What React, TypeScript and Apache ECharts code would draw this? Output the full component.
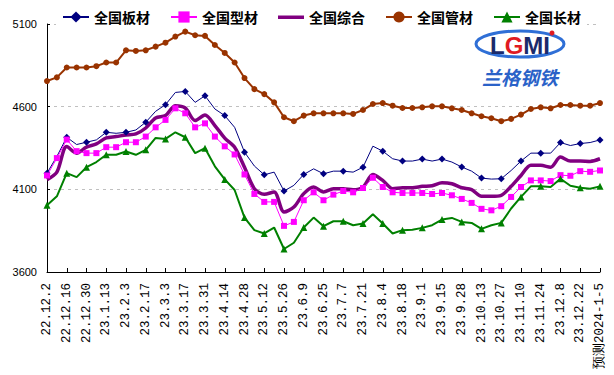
import React, { useEffect, useRef } from "react";
import * as echarts from "echarts";

const dates = [
  "22.12.2", "22.12.9", "22.12.16", "22.12.23", "22.12.30", "23.1.6", "23.1.13", "23.1.20",
  "23.2.3", "23.2.10", "23.2.17", "23.2.24", "23.3.3", "23.3.10", "23.3.17", "23.3.24",
  "23.3.31", "23.4.7", "23.4.14", "23.4.21", "23.4.28", "23.5.5", "23.5.12", "23.5.19",
  "23.5.26", "23.6.2", "23.6.9", "23.6.16", "23.6.25", "23.6.30", "23.7.7", "23.7.14",
  "23.7.21", "23.7.28", "23.8.4", "23.8.11", "23.8.18", "23.8.25", "23.9.1", "23.9.8",
  "23.9.15", "23.9.22", "23.9.28", "23.10.6", "23.10.13", "23.10.20", "23.10.27", "23.11.3",
  "23.11.10", "23.11.17", "23.11.24", "23.12.1", "23.12.8", "23.12.15", "23.12.22", "23.12.29",
  "预测2024-1-5",
];

const plate = [
  4198, 4299, 4415, 4371, 4385, 4399, 4445, 4439, 4445, 4459,
  4506, 4572, 4612, 4686, 4692, 4626, 4666, 4586, 4546, 4475,
  4325, 4241, 4188, 4204, 4090, 4124, 4190, 4224, 4194, 4210,
  4210, 4204, 4234, 4361, 4331, 4285, 4271, 4271, 4283, 4271,
  4283, 4265, 4235, 4210, 4168, 4162, 4164, 4214, 4271, 4319,
  4319, 4319, 4383, 4365, 4377, 4383, 4399,
];

const section = [
  4184, 4289, 4401, 4331, 4319, 4319, 4355, 4355, 4385, 4385,
  4419, 4475, 4520, 4590, 4560, 4475, 4499, 4419, 4360, 4311,
  4190, 4072, 4024, 4024, 3879, 3903, 4034, 4082, 4034, 4068,
  4090, 4082, 4108, 4170, 4114, 4082, 4078, 4078, 4078, 4072,
  4078, 4064, 4042, 4018, 3982, 3973, 3998, 4054, 4114, 4154,
  4154, 4150, 4186, 4182, 4210, 4206, 4214,
];

const composite = [
  4158, 4204, 4359, 4319, 4355, 4375, 4411, 4419, 4429, 4435,
  4471, 4532, 4546, 4606, 4592, 4516, 4550, 4486, 4410, 4355,
  4234, 4104, 4070, 4084, 3963, 3993, 4074, 4114, 4084, 4104,
  4104, 4098, 4114, 4190, 4154, 4104, 4110, 4110, 4118, 4122,
  4140, 4134, 4110, 4098, 4058, 4058, 4064, 4118, 4184, 4245,
  4245, 4234, 4295, 4271, 4271, 4269, 4285,
];

const pipe = [
  4755, 4777, 4837, 4837, 4837, 4845, 4867, 4867, 4941, 4937,
  4941, 4963, 4987, 5024, 5054, 5032, 5028, 4973, 4925, 4867,
  4773, 4706, 4676, 4626, 4536, 4512, 4546, 4560, 4560, 4560,
  4560, 4556, 4580, 4616, 4622, 4606, 4592, 4592, 4596, 4602,
  4602, 4590, 4580, 4560, 4542, 4530, 4512, 4526, 4552, 4586,
  4596, 4590, 4610, 4610, 4606, 4606, 4622,
];

const longProd = [
  4004, 4058, 4198, 4174, 4234, 4265, 4309, 4309, 4329, 4309,
  4339, 4411, 4405, 4445, 4415, 4319, 4349, 4239, 4160, 4096,
  3929, 3853, 3833, 3869, 3739, 3777, 3869, 3929, 3877, 3907,
  3907, 3883, 3893, 3949, 3893, 3833, 3853, 3855, 3867, 3883,
  3917, 3927, 3903, 3897, 3861, 3883, 3897, 3984, 4054, 4118,
  4118, 4114, 4164, 4122, 4110, 4104, 4118,
];

const names = ["全国板材", "全国型材", "全国综合", "全国管材", "全国长材"];
const yTicks = [3600, 4100, 4600, 5100];

export default function App() {
  const ref = useRef<HTMLDivElement>(null);
  useEffect(() => {
    if (!ref.current) return;
    const chart = echarts.init(ref.current, null, { renderer: "svg" });
    chart.setOption({
      animation: false,
      backgroundColor: "#ffffff",
      grid: { left: 47, right: 14, top: 24, bottom: 103, containLabel: false },
      legend: {
        data: [
          names[0],
          names[1],
          { name: names[2], icon: "path://M0,0 M0,5.5 L26,5.5 L26,9 L0,9 Z M26,14" },
          names[3],
          names[4],
        ],
        top: 7,
        left: 56,
        padding: [3, 6, 3, 6],
        backgroundColor: "#ffffff",
        itemWidth: 26,
        itemHeight: 14,
        itemGap: 20,
        textStyle: {
          fontFamily: "Noto Sans CJK SC",
          fontSize: 14,
          fontWeight: "bold",
          color: "#000000",
        },
      },
      xAxis: {
        type: "category",
        data: dates,
        boundaryGap: false,
        axisLine: { lineStyle: { color: "#000000", width: 1 } },
        axisTick: { inside: true, length: 4, interval: 1, lineStyle: { color: "#000000" } },
        axisLabel: {
          interval: 1,
          rotate: 90,
          margin: 11,
          fontFamily: "Liberation Mono",
          fontSize: 12.5,
          color: "#000000",
        },
        splitLine: { show: false },
      },
      yAxis: {
        type: "value",
        min: yTicks[0],
        max: yTicks[yTicks.length - 1],
        interval: 500,
        axisLine: { show: true, lineStyle: { color: "#000000", width: 1 } },
        axisTick: { show: true, inside: true, length: 3, lineStyle: { color: "#000000" } },
        axisLabel: {
          margin: 10,
          fontFamily: "Liberation Sans",
          fontSize: 11,
          color: "#000000",
          formatter: (v: number) => String(v),
        },
        splitLine: { show: true, lineStyle: { color: "#c0c0c0", type: [3, 4], width: 1 } },
      },
      graphic: [
        {
          type: "ellipse",
          shape: { cx: 520, cy: 44, rx: 44, ry: 13 },
          style: { fill: "#ffffff", stroke: "#2f6fd6", lineWidth: 3 },
          z: 10,
        },
        {
          type: "text",
          x: 520,
          y: 45,
          style: {
            text: "{a|L}{b|G}{a|M}{a|I}",
            align: "center",
            verticalAlign: "middle",
            rich: {
              a: { fontFamily: "Liberation Sans", fontSize: 24, fontWeight: "bold", fill: "#1b2a6b" },
              b: { fontFamily: "Liberation Sans", fontSize: 24, fontWeight: "bold", fill: "#e01a22" },
            },
          },
          z: 11,
        },
        {
          type: "circle",
          shape: { cx: 552, cy: 33, r: 2.5 },
          style: { fill: "#e01a22" },
          z: 12,
        },
        {
          type: "text",
          x: 520,
          y: 76,
          style: {
            text: "兰格钢铁",
            align: "center",
            verticalAlign: "middle",
            fontFamily: "Noto Sans CJK SC",
            fontSize: 19,
            fontWeight: "bold",
            fontStyle: "italic",
            fill: "#2a62c8",
          },
          z: 11,
        },
      ],
      series: [
        {
          name: names[2],
          type: "line",
          data: composite,
          smooth: 0.3,
          symbol: "none",
          lineStyle: { color: "#800080", width: 3.5 },
          itemStyle: { color: "#800080" },
          z: 2,
        },
        {
          name: names[0],
          type: "line",
          data: plate,
          symbol: "diamond",
          symbolSize: 7,
          lineStyle: { color: "#000080", width: 1 },
          itemStyle: { color: "#000080" },
          z: 3,
        },
        {
          name: names[1],
          type: "line",
          data: section,
          symbol: "rect",
          symbolSize: 6,
          lineStyle: { color: "#ff00ff", width: 1 },
          itemStyle: { color: "#ff00ff" },
          z: 3,
        },
        {
          name: names[3],
          type: "line",
          data: pipe,
          symbol: "circle",
          symbolSize: 6,
          lineStyle: { color: "#993300", width: 2 },
          itemStyle: { color: "#993300" },
          z: 3,
        },
        {
          name: names[4],
          type: "line",
          data: longProd,
          symbol: "triangle",
          symbolSize: 7,
          lineStyle: { color: "#008000", width: 2 },
          itemStyle: { color: "#008000" },
          z: 3,
        },
      ],
    });
    return () => chart.dispose();
  }, []);
  return <div ref={ref} style={{ width: 614, height: 375, position: "absolute", left: 0, top: 0 }} />;
}
